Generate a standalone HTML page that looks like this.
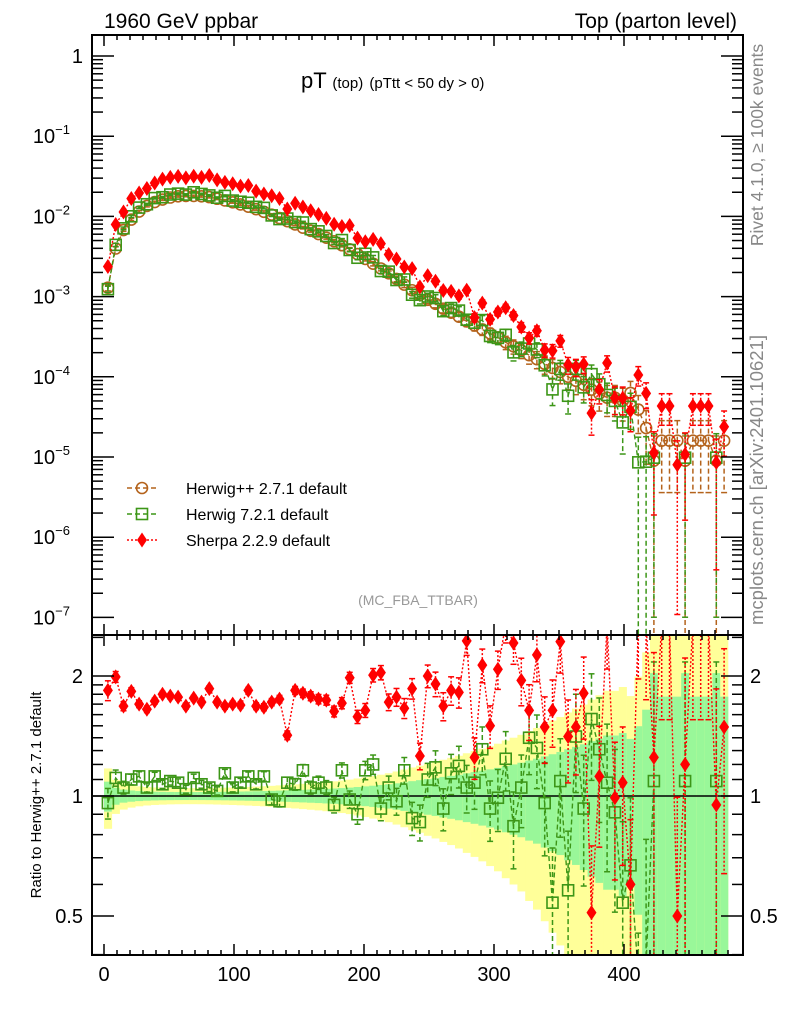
<!DOCTYPE html>
<html><head><meta charset="utf-8"><style>
html,body{margin:0;padding:0;background:#fff;width:786px;height:1024px;overflow:hidden;}
svg{display:block;font-family:"Liberation Sans",Arial,sans-serif;}
</style></head><body>
<svg id="chart" width="786" height="1024" viewBox="0 0 786 1024" xmlns="http://www.w3.org/2000/svg">
<defs>
<clipPath id="clipMain"><rect x="92" y="35" width="651" height="600"/></clipPath>
<clipPath id="clipRatio"><rect x="92" y="635" width="651" height="320"/></clipPath>
</defs>
<g id="bands" clip-path="url(#clipRatio)"></g>
<line x1="92" y1="796" x2="743" y2="796" stroke="#000" stroke-width="1.5"/>
<g id="mainSeries" clip-path="url(#clipMain)"></g>
<g id="ratioSeries" clip-path="url(#clipRatio)"></g>
<g id="axes"></g>
<rect x="92" y="35" width="651" height="600" fill="none" stroke="#000" stroke-width="2"/>
<rect x="92" y="635" width="651" height="320" fill="none" stroke="#000" stroke-width="2"/>
<text x="104" y="28" font-size="21">1960 GeV ppbar</text>
<text x="737" y="28" font-size="21" text-anchor="end">Top (parton level)</text>
<text x="301" y="88" font-size="22">pT <tspan font-size="15">(top)</tspan> <tspan font-size="15">(pTtt &lt; 50 dy &gt; 0)</tspan></text>
<text x="418" y="605" font-size="14" fill="#999" text-anchor="middle">(MC_FBA_TTBAR)</text>
<text transform="translate(763,145) rotate(-90)" font-size="17.5" fill="#888" text-anchor="middle">Rivet 4.1.0, ≥ 100k events</text>
<text transform="translate(763,480) rotate(-90)" font-size="18.5" fill="#888" text-anchor="middle">mcplots.cern.ch [arXiv:2401.10621]</text>
<text transform="translate(41,795) rotate(-90)" font-size="15" text-anchor="middle">Ratio to Herwig++ 2.7.1 default</text>
<g id="legend"></g>
</svg>
<script>
const binLo = 0;
const binW = 6;
const hpp = [1.29e-3,3.98e-3,6.76e-3,9.12e-3,1.15e-2,1.35e-2,1.51e-2,1.62e-2,1.72e-2,1.78e-2,
1.80e-2,1.80e-2,1.78e-2,1.74e-2,1.66e-2,1.58e-2,1.50e-2,1.41e-2,1.32e-2,1.23e-2,
1.14e-2,1.05e-2,9.55e-3,8.71e-3,7.94e-3,7.24e-3,6.61e-3,6.03e-3,5.43e-3,4.90e-3,
4.37e-3,3.89e-3,3.39e-3,2.95e-3,2.57e-3,2.24e-3,1.95e-3,1.66e-3,1.41e-3,1.20e-3,
1.05e-3,9.12e-4,8.13e-4,7.08e-4,6.31e-4,5.62e-4,4.90e-4,4.37e-4,3.89e-4,3.47e-4,
3.09e-4,2.69e-4,2.40e-4,2.14e-4,1.86e-4,1.66e-4,1.45e-4,1.29e-4,1.15e-4,1.00e-4,
8.91e-5,7.94e-5,6.92e-5,6.17e-5,5.50e-5,5.5e-5,5.0e-5,6.3e-5,3.9e-5,2.3e-5,
9e-6,1.6e-5,1.6e-5,1.6e-5,9e-6,1.6e-5,1.6e-5,1.6e-5,9e-6,1.6e-5];
const h7Ratio = [0.96,1.11,1.05,1.10,1.12,1.05,1.12,1.07,1.09,1.08,
1.04,1.11,1.07,1.05,1.03,1.14,1.05,1.08,1.12,1.07,
1.12,0.98,0.97,1.08,1.07,1.16,1.05,1.08,1.05,0.95,
1.16,0.98,0.90,1.16,1.20,0.93,1.05,0.97,1.16,0.88,
0.86,1.10,1.18,0.93,1.14,1.19,1.05,1.08,1.31,0.93,
0.99,1.24,0.84,1.05,1.40,1.32,0.96,0.54,1.09,0.58,
1.41,0.93,1.56,1.31,1.08,0.91,0.54,0.67,0.22,0.38,
1.09,null,null,null,1.09,null,null,null,1.09,null];
const sherpaRatio = [1.84,1.99,1.68,1.83,1.70,1.65,1.73,1.80,1.78,1.77,
1.68,1.76,1.72,1.86,1.72,1.68,1.70,1.69,1.84,1.68,
1.67,1.72,1.75,1.42,1.84,1.81,1.78,1.75,1.74,1.63,
1.71,1.98,1.58,1.64,2.01,2.04,1.72,1.77,1.66,1.86,
1.26,2.00,1.91,1.68,1.84,1.82,2.45,1.25,2.13,1.50,
2.08,2.70,2.42,1.95,1.64,2.26,1.49,1.64,2.44,1.41,
1.49,1.81,0.51,1.12,2.70,0.99,1.08,0.60,2.70,2.70,
1.25,2.70,2.70,0.50,1.20,2.70,2.70,2.70,0.95,1.49];
const xTickLabels = [0,100,200,300,400];
const yDecades = [0,-1,-2,-3,-4,-5,-6,-7];
const ratioTickLabels = [0.5,1,2];

const NS="http://www.w3.org/2000/svg";
const X = pt => 104 + 1.3*pt;
const Y = v => 56 - 80.2*Math.log10(v);
const R = r => 796 - 120*Math.log2(r);
const relErr = v => 0.0031/Math.sqrt(v);
const clamp = (v,a,b) => Math.max(a,Math.min(b,v));
function mk(tag, attrs, parent){const e=document.createElementNS(NS,tag);for(const k in attrs)e.setAttribute(k,attrs[k]);parent.appendChild(e);return e;}
const bandsG=document.getElementById('bands');
const mainG=document.getElementById('mainSeries');
const ratioG=document.getElementById('ratioSeries');
const axesG=document.getElementById('axes');
const legendG=document.getElementById('legend');
const center = i => binLo + binW*(i+0.5);

hpp.forEach((v,i)=>{
  const e=relErr(v);
  const x0=X(binLo+binW*i), x1=X(binLo+binW*(i+1));
  const yu=clamp(R(1+2*e),630,960), yl=clamp(R(Math.max(1-2*e,0.05)),630,960);
  const b1=mk('rect',{x:x0,y:yu,width:x1-x0+0.3,height:yl-yu,fill:'#ffff99'},bandsG);
  
  
  const gu=clamp(R(1+e),630,960), gl=clamp(R(Math.max(1-e,0.05)),630,960);
  const b2=mk('rect',{x:x0,y:gu,width:x1-x0+0.3,height:gl-gu,fill:'#99f799'},bandsG);
  
  
});

function errBar(g,x,yTop,yBot,color,dash){
  const l=mk('line',{x1:x,x2:x,y1:yTop,y2:yBot,stroke:color,'stroke-width':1.5,'stroke-dasharray':dash},g);
  
  
  mk('line',{x1:x-3,x2:x+3,y1:yTop,y2:yTop,stroke:color,'stroke-width':1.5},g);
  mk('line',{x1:x-3,x2:x+3,y1:yBot,y2:yBot,stroke:color,'stroke-width':1.5},g);
}
function marker(g,type,x,y,color,name){
  let m;
  if(type==='circle') m=mk('circle',{cx:x,cy:y,r:5.5,fill:'none',stroke:color,'stroke-width':1.6},g);
  else if(type==='square') m=mk('rect',{x:x-5.5,y:y-5.5,width:11,height:11,fill:'none',stroke:color,'stroke-width':1.6},g);
  else m=mk('polygon',{points:`${x},${y-7.5} ${x+5},${y} ${x},${y+7.5} ${x-5},${y}`,fill:color},g);
  
  
}
function drawSeries(g,vals,toY,errs,type,color,dash,name,top,bottom){
  const cy = v => clamp(toY(v), top-20, bottom+20);
  let pts=[];
  vals.forEach((v,i)=>{
    if(v==null||v<=0){ if(pts.length>1){mk('polyline',{points:pts.join(' '),fill:'none',stroke:color,'stroke-width':1.4,'stroke-dasharray':dash},g);} pts=[]; return;}
    pts.push(X(center(i))+','+cy(v));
  });
  if(pts.length>1){const p=mk('polyline',{points:pts.join(' '),fill:'none',stroke:color,'stroke-width':1.4,'stroke-dasharray':dash},g);
    
    }
  vals.forEach((v,i)=>{
    if(v==null||v<=0) return;
    const x=X(center(i)); const e=errs[i];
    const lo=v*(1-e);
    errBar(g,x,cy(v*(1+e)),lo>0?cy(lo):bottom+5,color,dash);
  });
  vals.forEach((v,i)=>{
    if(v==null||v<=0) return;
    const y=toY(v); if(y<top-20||y>bottom+20) return;
    marker(g,type,X(center(i)),y,color,name+'-point');
  });
}
const BROWN='#b4631c', GREEN='#3c9617', RED='#ff0000';
const h7 = hpp.map((v,i)=> h7Ratio[i]==null?null:v*h7Ratio[i]);
const sherpa = hpp.map((v,i)=> v*sherpaRatio[i]);
drawSeries(mainG,hpp,Y,hpp.map(relErr),'circle',BROWN,'5,3','herwigpp',35,635);
drawSeries(mainG,h7,Y,h7.map(v=>v?relErr(v):0),'square',GREEN,'5,3','herwig7',35,635);
drawSeries(mainG,sherpa,Y,sherpa.map(v=>relErr(v)*0.9),'diamond',RED,'2,2','sherpa',35,635);
drawSeries(ratioG,h7Ratio,R,h7.map(v=>v?relErr(v):0),'square',GREEN,'5,3','herwig7-ratio',635,955);
drawSeries(ratioG,sherpaRatio,R,sherpa.map(v=>relErr(v)*0.9),'diamond',RED,'2,2','sherpa-ratio',635,955);

for(let t=0;t<=480;t+=10){
  const x=X(t); const major=xTickLabels.includes(t);
  const L=major?11:5;
  mk('line',{x1:x,x2:x,y1:35,y2:35+L,stroke:'#000','stroke-width':1.5},axesG);
  mk('line',{x1:x,x2:x,y1:635,y2:635-L,stroke:'#000','stroke-width':1.5},axesG);
  mk('line',{x1:x,x2:x,y1:635,y2:635+L,stroke:'#000','stroke-width':1.5},axesG);
  mk('line',{x1:x,x2:x,y1:955,y2:955-L,stroke:'#000','stroke-width':1.5},axesG);
}
xTickLabels.forEach(t=>{
  const tx=mk('text',{x:X(t),y:981,'font-size':20,'text-anchor':'middle'},axesG);
  tx.textContent=t;
  
  
});
yDecades.forEach(d=>{
  for(let m=1;m<10;m++){
    const y=Y(m*Math.pow(10,d)); if(y<35||y>635) continue;
    const L=m===1?22:11;
    mk('line',{x1:92,x2:92+L,y1:y,y2:y,stroke:'#000','stroke-width':1.5},axesG);
    mk('line',{x1:743,x2:743-L,y1:y,y2:y,stroke:'#000','stroke-width':1.5},axesG);
  }
  const tx=mk('text',{x:d===0?83:70,y:Y(Math.pow(10,d))+7,'font-size':20,'text-anchor':'end'},axesG);
  
  
  if(d===0){tx.textContent='1';}
  else{tx.textContent='10';const s=mk('tspan',{'font-size':13,dy:-9},tx);s.textContent='−'+(-d);}
});
[0.4,0.5,0.6,0.7,0.8,0.9,1,1.1,1.2,1.3,1.4,1.5,1.6,1.7,1.8,1.9,2,2.5].forEach(r=>{
  const y=R(r); if(y<635||y>955) return;
  const L=ratioTickLabels.includes(r)?22:11;
  mk('line',{x1:92,x2:92+L,y1:y,y2:y,stroke:'#000','stroke-width':1.5},axesG);
  mk('line',{x1:743,x2:743-L,y1:y,y2:y,stroke:'#000','stroke-width':1.5},axesG);
});
ratioTickLabels.forEach(r=>{
  const a=mk('text',{x:83,y:R(r)+7,'font-size':20,'text-anchor':'end'},axesG);a.textContent=r;
  
  
  const b=mk('text',{x:750,y:R(r)+7,'font-size':20},axesG);b.textContent=r;
  
  
});
const legendNames=['Herwig++ 2.7.1 default','Herwig 7.2.1 default','Sherpa 2.2.9 default'];
const legendTypes=['circle','square','diamond'];
const legendColors=[BROWN,GREEN,RED];
const legendDash=['5,3','5,3','2,2'];
legendNames.forEach((n,i)=>{
  const y=488+26*i;
  const g=mk('g',{},legendG);
  
  
  mk('line',{x1:127,x2:157,y1:y,y2:y,stroke:legendColors[i],'stroke-width':1.4,'stroke-dasharray':legendDash[i]},g);
  marker(g,legendTypes[i],142,y,legendColors[i],'legend-marker');
  const t=mk('text',{x:186,y:y+6,'font-size':16},g);t.textContent=n;
});
</script>
</body></html>
